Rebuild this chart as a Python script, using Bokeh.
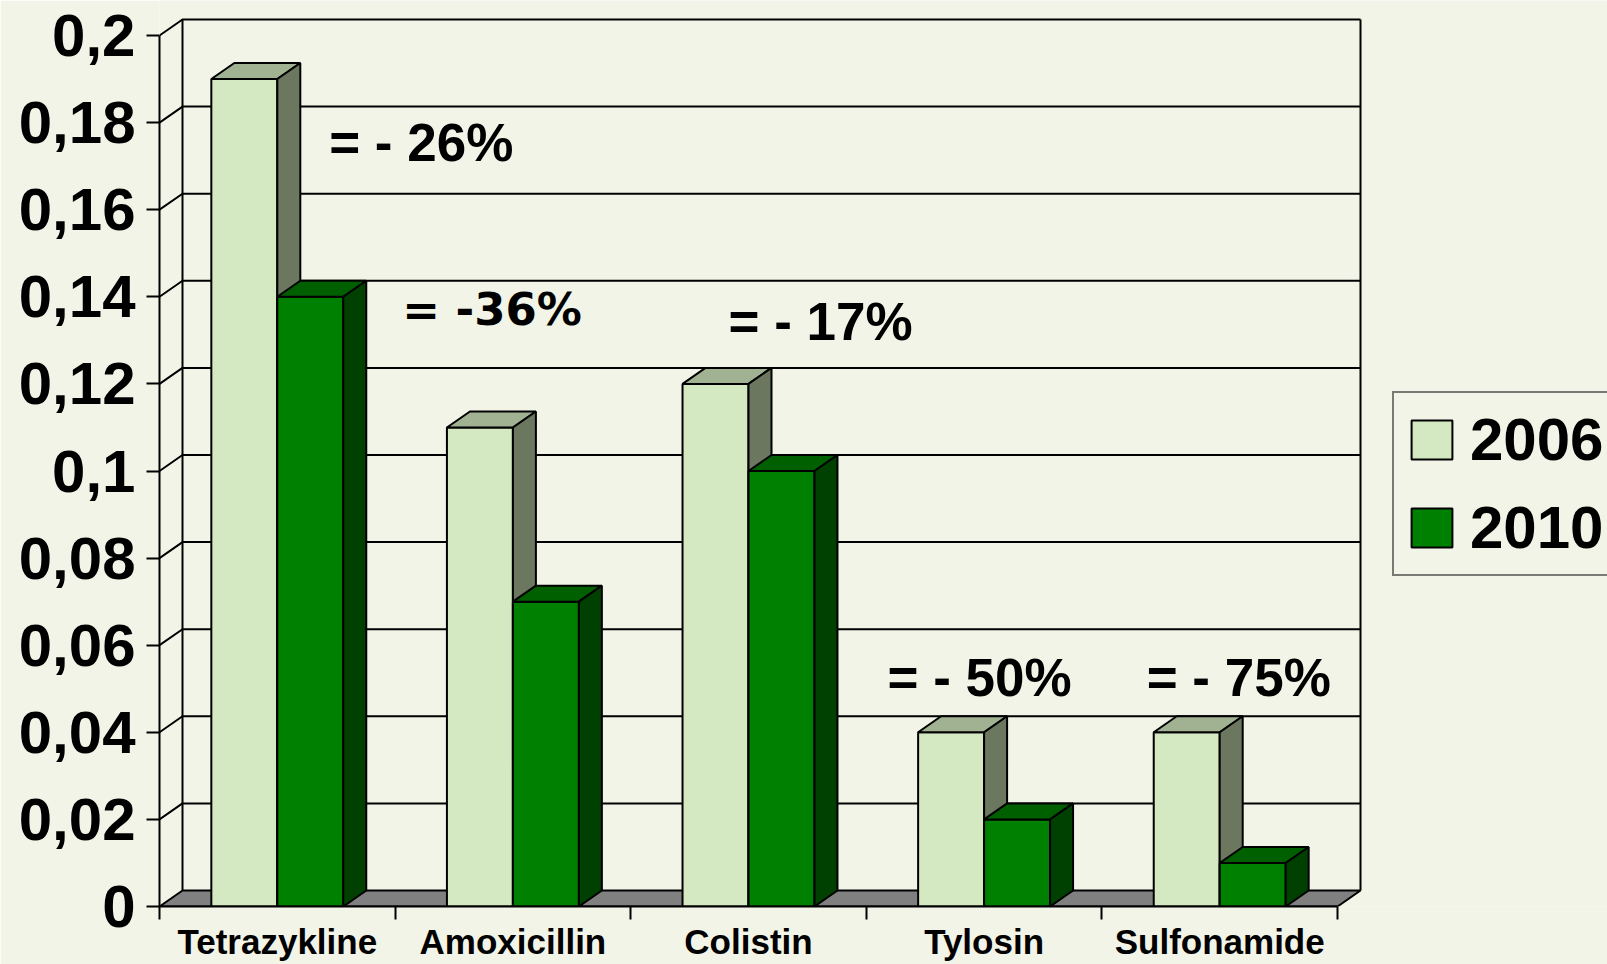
from bokeh.plotting import figure
from bokeh.models import FixedTicker, Legend, LegendItem, ColumnDataSource, Range1d
from bokeh.embed import file_html
from bokeh.resources import INLINE

# ---------------- data ----------------
CATEGORIES = ["Tetrazykline", "Amoxicillin", "Colistin", "Tylosin", "Sulfonamide"]
SERIES = ["2006", "2010"]
VALUES_2006 = [0.19, 0.11, 0.12, 0.04, 0.04]
VALUES_2010 = [0.14, 0.07, 0.10, 0.02, 0.01]
Y_TICKS = [0, 0.02, 0.04, 0.06, 0.08, 0.1, 0.12, 0.14, 0.16, 0.18, 0.2]
Y_TICK_LABELS = ["0", "0,02", "0,04", "0,06", "0,08", "0,1", "0,12", "0,14", "0,16", "0,18", "0,2"]
CHANGE_LABELS = ["= - 26%", "= -36%", "= - 17%", "= - 50%", "= - 75%"]

# ---------------- layout / style ----------------
W, H = 1607, 964
LEFT = 159
BOTTOM = 58
AXIS_PX = 1178      # pixel length of the category axis
Y_AXIS_PX = 871     # pixel length of 0 .. 0.2
N = len(CATEGORIES)
Y_MAX = Y_TICKS[-1]
X_END = N * (W - LEFT) / AXIS_PX
Y_END = Y_MAX * (H - BOTTOM) / Y_AXIS_PX
DX = 23 * N / AXIS_PX          # depth offset (x, data units)
DY = 16 * Y_MAX / Y_AXIS_PX    # depth offset (y, data units)
BAR_W = 0.28

ANN_X = [0.72, 1.030, 2.415, 3.09, 4.19]
ANN_Y = [0.1754, 0.1371, 0.1343, 0.0526, 0.0526]
ANN_FONT = ["Liberation Sans", "DejaVu Sans", "Liberation Sans", "Liberation Sans", "Liberation Sans"]
ANN_SIZE = ["53px", "45px", "53px", "53px", "53px"]

BG = "#F1F4E6"
FRONT = ["#D4E8C1", "#008000"]
TOP = ["#A1B292", "#006000"]
SIDE = ["#6B775F", "#004000"]
FLOOR = "#808080"
LW = 2

p = figure(width=W, height=H, x_range=Range1d(0, X_END), y_range=Range1d(0, Y_END),
           output_backend="svg", toolbar_location=None,
           min_border=0, min_border_left=LEFT, min_border_bottom=BOTTOM,
           background_fill_color=BG, border_fill_color=BG, outline_line_color=None)
p.grid.visible = False

# ---------------- walls ----------------
grid_xs, grid_ys = [], []
for v in Y_TICKS[1:]:
    grid_xs.append([0, DX, N + DX])
    grid_ys.append([v, v + DY, v + DY])
grid_xs.append([DX, DX])
grid_ys.append([DY, Y_MAX + DY])
grid_xs.append([N + DX, N + DX])
grid_ys.append([DY, Y_MAX + DY])
p.multi_line(grid_xs, grid_ys, line_color="black", line_width=LW)

p.patch([0, N, N + DX, DX], [0, 0, DY, DY], fill_color=FLOOR, line_color="black", line_width=LW)

# ---------------- bars ----------------
front_renderers = []
for s, vals in enumerate([VALUES_2006, VALUES_2010]):
    lefts = [i + 0.5 - BAR_W + s * BAR_W for i in range(N)]
    rights = [l + BAR_W for l in lefts]
    top_xs = [[l, r, r + DX, l + DX] for l, r in zip(lefts, rights)]
    top_ys = [[h, h, h + DY, h + DY] for h in vals]
    side_xs = [[r, r + DX, r + DX, r] for r in rights]
    side_ys = [[0, DY, h + DY, h] for h in vals]
    fr = p.quad(left=lefts, right=rights, bottom=0, top=vals,
                fill_color=FRONT[s], line_color="black", line_width=LW)
    p.patches(top_xs, top_ys, fill_color=TOP[s], line_color="black", line_width=LW)
    p.patches(side_xs, side_ys, fill_color=SIDE[s], line_color="black", line_width=LW)
    front_renderers.append(fr)

# ---------------- annotations ----------------
ann = ColumnDataSource(dict(x=ANN_X, y=ANN_Y, text=CHANGE_LABELS, font=ANN_FONT, size=ANN_SIZE))
p.text(x="x", y="y", text="text", source=ann, text_font="font", text_font_size="size",
       text_font_style="bold", text_color="black", text_baseline="alphabetic", text_align="left")

# ---------------- axes ----------------
ya = p.yaxis[0]
ya.ticker = FixedTicker(ticks=Y_TICKS, minor_ticks=[])
ya.major_label_overrides = dict(zip(Y_TICKS, Y_TICK_LABELS))
ya.bounds = (0, Y_MAX)
ya.axis_line_width = LW
ya.major_tick_line_width = LW
ya.major_tick_out = 13
ya.major_tick_in = 0
ya.minor_tick_out = 0
ya.minor_tick_in = 0
ya.major_label_standoff = 11
ya.major_label_text_font = "Liberation Sans"
ya.major_label_text_font_style = "bold"
ya.major_label_text_font_size = "60px"
ya.major_label_text_color = "black"

xa = p.xaxis[0]
centers = [i + 0.5 for i in range(N)]
xa.ticker = FixedTicker(ticks=centers, minor_ticks=list(range(N + 1)))
xa.major_label_overrides = dict(zip(centers, CATEGORIES))
xa.bounds = (0, N)
xa.axis_line_width = LW
xa.major_tick_out = 0
xa.major_tick_in = 0
xa.minor_tick_out = 13
xa.minor_tick_in = 0
xa.minor_tick_line_width = LW
xa.minor_tick_line_color = "black"
xa.major_label_standoff = 2
xa.major_label_text_font = "Liberation Sans"
xa.major_label_text_font_style = "bold"
xa.major_label_text_font_size = "35px"
xa.major_label_text_color = "black"

# ---------------- legend ----------------
legend = Legend(items=[LegendItem(label=SERIES[0], renderers=[front_renderers[0]]),
                       LegendItem(label=SERIES[1], renderers=[front_renderers[1]])],
                location=(1233, 330), orientation="vertical",
                glyph_width=51, glyph_height=49, label_standoff=13,
                label_text_font="Liberation Sans", label_text_font_style="bold",
                label_text_font_size="60px", label_text_color="black",
                padding=12, spacing=19, margin=0,
                border_line_color="black", border_line_width=LW,
                background_fill_color=BG, background_fill_alpha=1.0)
p.add_layout(legend)

open("out.html", "w").write(file_html(p, INLINE))
